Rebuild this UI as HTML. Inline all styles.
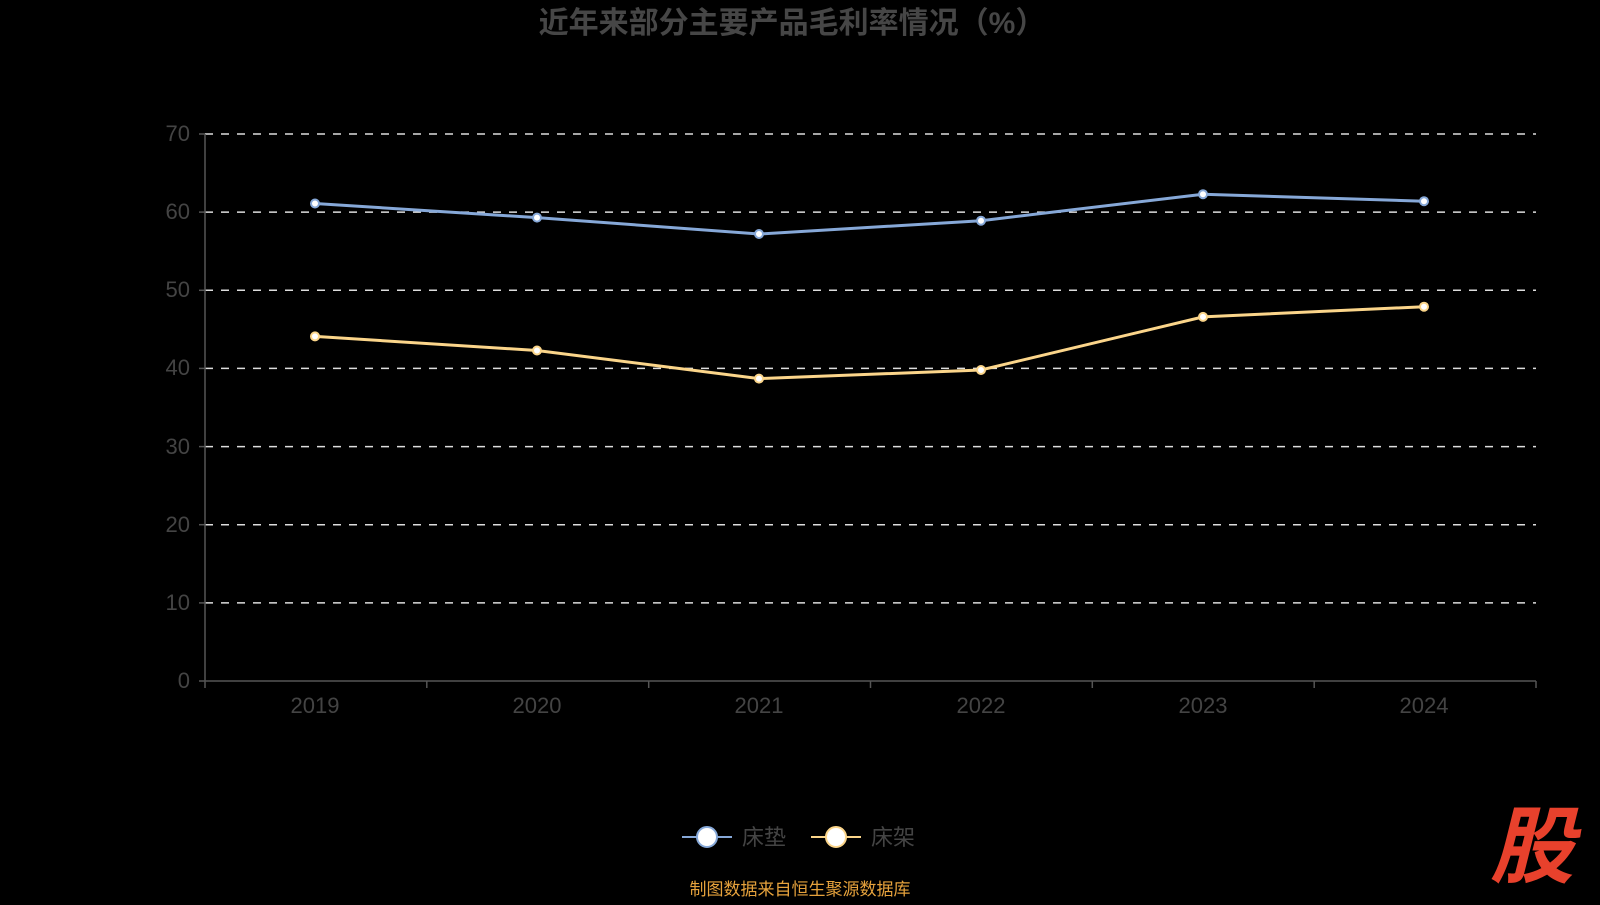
<!DOCTYPE html>
<html><head><meta charset="utf-8"><style>
body{margin:0;background:#000;width:1600px;height:900px;overflow:hidden}
svg text{font-family:"Liberation Sans","Noto Sans CJK SC",sans-serif}
</style></head><body>
<svg width="1600" height="900" xmlns="http://www.w3.org/2000/svg">
<rect width="1600" height="900" fill="#000"/>
<text x="792" y="33" text-anchor="middle" font-size="30" font-weight="bold" fill="#464646">近年来部分主要产品毛利率情况（%）</text>
<g stroke="#ddd" stroke-width="1.5" stroke-dasharray="8,8">
<line x1="205" y1="134" x2="1536" y2="134"/>
<line x1="205" y1="212.1" x2="1536" y2="212.1"/>
<line x1="205" y1="290.3" x2="1536" y2="290.3"/>
<line x1="205" y1="368.4" x2="1536" y2="368.4"/>
<line x1="205" y1="446.6" x2="1536" y2="446.6"/>
<line x1="205" y1="524.7" x2="1536" y2="524.7"/>
<line x1="205" y1="602.9" x2="1536" y2="602.9"/>
</g>
<g stroke="#555" stroke-width="1.5">
<line x1="205" y1="134" x2="205" y2="681"/>
<line x1="199" y1="681" x2="1536" y2="681"/>
<line x1="205" y1="681" x2="205" y2="688"/><line x1="426.8" y1="681" x2="426.8" y2="688"/><line x1="648.7" y1="681" x2="648.7" y2="688"/><line x1="870.5" y1="681" x2="870.5" y2="688"/><line x1="1092.3" y1="681" x2="1092.3" y2="688"/><line x1="1314.2" y1="681" x2="1314.2" y2="688"/><line x1="1536" y1="681" x2="1536" y2="688"/>
<line x1="199" y1="134" x2="205" y2="134"/><line x1="199" y1="212.1" x2="205" y2="212.1"/><line x1="199" y1="290.3" x2="205" y2="290.3"/><line x1="199" y1="368.4" x2="205" y2="368.4"/><line x1="199" y1="446.6" x2="205" y2="446.6"/><line x1="199" y1="524.7" x2="205" y2="524.7"/><line x1="199" y1="602.9" x2="205" y2="602.9"/>
</g>
<g font-size="22" fill="#444" text-anchor="end">
<text x="190" y="141">70</text><text x="190" y="219">60</text><text x="190" y="297">50</text><text x="190" y="375">40</text><text x="190" y="454">30</text><text x="190" y="532">20</text><text x="190" y="610">10</text><text x="190" y="688">0</text>
</g>
<g font-size="22" fill="#444" text-anchor="middle">
<text x="315" y="713">2019</text><text x="537" y="713">2020</text><text x="759" y="713">2021</text><text x="981" y="713">2022</text><text x="1203" y="713">2023</text><text x="1424" y="713">2024</text>
</g>
<polyline fill="none" stroke="#86a8d8" stroke-width="3" points="315,203.5 537,217.6 759,234.0 981,220.7 1203,194.2 1424,201.2"/>
<polyline fill="none" stroke="#fbd58a" stroke-width="3" points="315,336.4 537,350.5 759,378.6 981,370.0 1203,316.9 1424,306.7"/>
<g fill="#fff" stroke="#86a8d8" stroke-width="2">
<circle cx="315" cy="203.5" r="4"/><circle cx="537" cy="217.6" r="4"/><circle cx="759" cy="234" r="4"/><circle cx="981" cy="220.7" r="4"/><circle cx="1203" cy="194.2" r="4"/><circle cx="1424" cy="201.2" r="4"/>
</g>
<g fill="#fff" stroke="#fbd58a" stroke-width="2">
<circle cx="315" cy="336.4" r="4"/><circle cx="537" cy="350.5" r="4"/><circle cx="759" cy="378.6" r="4"/><circle cx="981" cy="370" r="4"/><circle cx="1203" cy="316.9" r="4"/><circle cx="1424" cy="306.7" r="4"/>
</g>
<line x1="682" y1="837" x2="732" y2="837" stroke="#86a8d8" stroke-width="2"/>
<circle cx="707" cy="837" r="10" fill="#fff" stroke="#86a8d8" stroke-width="2"/>
<text x="742" y="845" font-size="22" fill="#444">床垫</text>
<line x1="811" y1="837" x2="861" y2="837" stroke="#fbd58a" stroke-width="2"/>
<circle cx="836" cy="837" r="10" fill="#fff" stroke="#fbd58a" stroke-width="2"/>
<text x="871" y="845" font-size="22" fill="#444">床架</text>
<text x="800" y="895" text-anchor="middle" font-size="17" fill="#e6a23c">制图数据来自恒生聚源数据库</text>
<text x="1532" y="876" text-anchor="middle" font-size="84" font-weight="bold" font-style="italic" fill="#e8412c">股</text>
</svg>
</body></html>
